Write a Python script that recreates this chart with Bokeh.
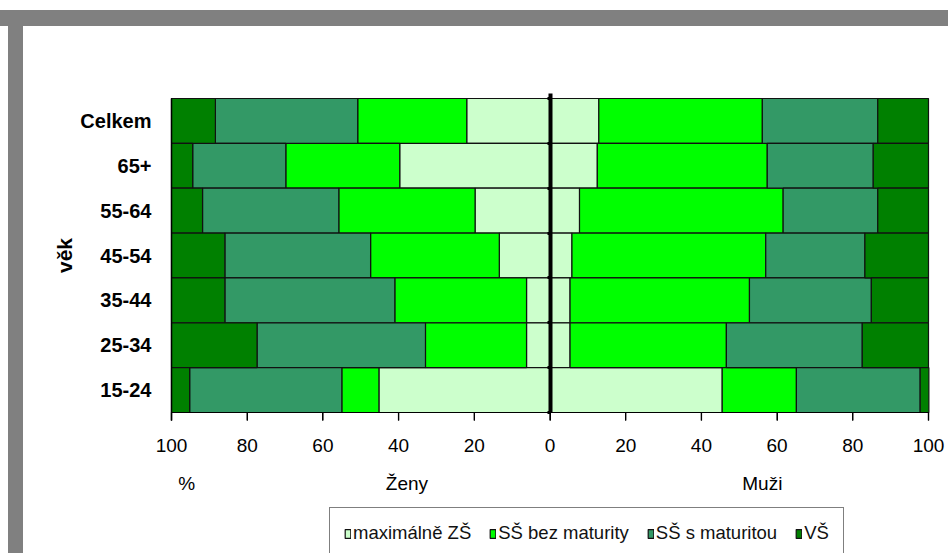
from bokeh.plotting import figure
from bokeh.models import (ColumnDataSource, Range1d, FixedTicker, LinearAxis,
                          Legend, LegendItem)
from bokeh.embed import file_html
from bokeh.resources import INLINE

# ---- data ----
groups = ["Celkem", "65+", "55-64", "45-54", "35-44", "25-34", "15-24"]
series_names = ["maximálně ZŠ", "SŠ bez maturity", "SŠ s maturitou", "VŠ"]
series_colors = ["#CCFFCC", "#00FF00", "#339966", "#008000"]

zeny_zs = [22.0, 39.7, 19.8, 13.4, 6.2, 6.2, 45.2]
zeny_ss_bez = [28.8, 30.1, 36.0, 34.0, 34.8, 26.7, 9.8]
zeny_ss_mat = [37.6, 24.6, 36.0, 38.5, 44.9, 44.5, 40.2]
zeny_vs = [11.6, 5.6, 8.2, 14.1, 14.1, 22.6, 4.8]

muzi_zs = [12.9, 12.5, 7.8, 5.8, 5.3, 5.3, 45.5]
muzi_ss_bez = [43.2, 44.9, 53.8, 51.2, 47.4, 41.3, 19.6]
muzi_ss_mat = [30.5, 28.0, 25.0, 26.2, 32.2, 35.9, 32.7]
muzi_vs = [13.4, 14.6, 13.4, 16.8, 15.1, 17.5, 2.3]

x_ticks = [-100, -80, -60, -40, -20, 0, 20, 40, 60, 80, 100]
x_tick_labels = ["100", "80", "60", "40", "20", "0", "20", "40", "60", "80", "100"]

side_label_pos = [-96.0, -37.8, 56.1]
side_labels = ["%", "Ženy", "Muži"]
y_title = "věk"

zeny = [zeny_zs, zeny_ss_bez, zeny_ss_mat, zeny_vs]
muzi = [muzi_zs, muzi_ss_bez, muzi_ss_mat, muzi_vs]

FONT = "'Liberation Sans', Arial, sans-serif"

W, H = 948, 553
n = len(groups)
ypos = [n - 1 - i for i in range(n)]          # Celkem on top
bar_bottom = -0.5
bar_top = n - 0.5

# the frame covers the whole canvas; the bar area sits at px 171..928 x 98..412
px_left, px_right, px_top, px_bottom = 171, 928, 98, 412
xs = (px_right - px_left) / 200.0
ysc = (px_bottom - px_top) / float(n)
x_range = Range1d(-100 - px_left / xs, 100 + (W - px_right) / xs)
y_range = Range1d(bar_bottom - (H - px_bottom) / ysc, bar_top + px_top / ysc)

p = figure(width=W, height=H, output_backend="svg", toolbar_location=None,
           x_range=x_range, y_range=y_range, min_border=0)
p.outline_line_color = None
p.xgrid.visible = False
p.ygrid.visible = False
p.background_fill_alpha = 0
p.border_fill_alpha = 0
p.styles = {
    "background": "linear-gradient(#808080,#808080) 0px 10px / 100% 16px no-repeat, "
                  "linear-gradient(#808080,#808080) 8px 10px / 15px 100% no-repeat, white"
}

cum_f = [0.0] * n
cum_m = [0.0] * n
renderers = []
for name, color, f, m in zip(series_names, series_colors, zeny, muzi):
    left = [-(c + v) for c, v in zip(cum_f, f)] + list(cum_m)
    right = [-c for c in cum_f] + [c + v for c, v in zip(cum_m, m)]
    src = ColumnDataSource(dict(y=ypos + ypos, left=left, right=right))
    r = p.hbar(y="y", left="left", right="right", height=1.0, source=src,
               fill_color=color, line_color="#111111", line_width=1.2)
    renderers.append(r)
    cum_f = [c + v for c, v in zip(cum_f, f)]
    cum_m = [c + v for c, v in zip(cum_m, m)]

# outward tick marks of the value axis (8 px below the bars) and the left axis line,
# drawn on the overlay level so nothing paints over them
tick_len = 8 / ysc
p.segment(x0=x_ticks, x1=x_ticks, y0=[bar_bottom] * len(x_ticks),
          y1=[bar_bottom - tick_len] * len(x_ticks), line_color="black",
          line_width=1.4, level="overlay")
p.segment(x0=[-100], x1=[-100], y0=[bar_top], y1=[bar_bottom - tick_len],
          line_color="black", line_width=1.4, level="overlay")

# x axis, pinned at the bottom of the bars
xa = p.xaxis[0]
xa.fixed_location = bar_bottom
xa.bounds = (-100, 100)
xa.ticker = FixedTicker(ticks=x_ticks)
xa.major_label_overrides = {t: l for t, l in zip(x_ticks, x_tick_labels)}
xa.minor_tick_line_color = None
xa.major_tick_out = 8
xa.major_tick_in = 0
xa.major_tick_line_width = 1
xa.major_label_standoff = 18
xa.major_label_text_font = FONT
xa.major_label_text_font_size = "19px"
xa.major_label_text_color = "black"
xa.axis_line_color = "black"
xa.major_tick_line_color = "black"

# second row of labels under the x axis: %, Ženy, Muži
xa2 = LinearAxis(ticker=FixedTicker(ticks=side_label_pos), fixed_location=bar_bottom,
                 major_label_overrides={t: l for t, l in zip(side_label_pos, side_labels)})
xa2.axis_line_color = None
xa2.major_tick_line_color = None
xa2.minor_tick_line_color = None
xa2.major_tick_out = 0
xa2.major_tick_in = 0
xa2.major_label_standoff = 60
xa2.major_label_text_font = FONT
xa2.major_label_text_font_size = "19px"
xa2.major_label_text_color = "black"
p.add_layout(xa2, "below")

# y axis with the age groups, pinned at -100
ya = p.yaxis[0]
ya.fixed_location = -100
ya.ticker = FixedTicker(ticks=ypos)
ya.major_label_overrides = {y: g for y, g in zip(ypos, groups)}
ya.bounds = (bar_bottom - 0.14, bar_top)
ya.major_tick_line_color = None
ya.minor_tick_line_color = None
ya.major_label_standoff = 14
ya.major_label_text_font = FONT
ya.major_label_text_font_style = "bold"
ya.major_label_text_font_size = "20px"
ya.major_label_text_color = "black"
ya.axis_line_color = "black"

# axis title "věk" (rotated), centred on the bars
ta = LinearAxis(fixed_location=-100, ticker=FixedTicker(ticks=[3.0]),
                major_label_overrides={3.0: y_title}, major_label_orientation="vertical")
ta.axis_line_color = None
ta.major_tick_line_color = None
ta.minor_tick_line_color = None
ta.major_tick_out = 0
ta.major_tick_in = 0
ta.major_label_standoff = 96
ta.major_label_text_font = FONT
ta.major_label_text_font_style = "bold"
ta.major_label_text_font_size = "21px"
ta.major_label_text_color = "black"
p.add_layout(ta, "left")

# thick central axis at 0
boundaries = [y - 0.5 for y in range(n + 1)]
ca = LinearAxis(fixed_location=0, ticker=FixedTicker(ticks=boundaries),
                bounds=(bar_bottom, bar_top + 0.12))
ca.axis_line_width = 4
ca.axis_line_color = "black"
ca.major_tick_out = 3
ca.major_tick_in = 0
ca.major_tick_line_width = 3
ca.major_tick_line_color = "black"
ca.minor_tick_line_color = None
ca.major_label_text_font_size = "0px"
ca.major_label_text_alpha = 0
p.add_layout(ca, "left")

# make sure no axis paints a background over the bars' surroundings
for ax in (xa, xa2, ya, ta, ca):
    if "background_fill_color" in ax.properties():
        ax.background_fill_color = None

legend = Legend(items=[LegendItem(label=nm, renderers=[r]) for nm, r in zip(series_names, renderers)],
                orientation="horizontal", location=(329, -6))
legend.border_line_color = "black"
legend.border_line_width = 1
legend.background_fill_color = "white"
legend.background_fill_alpha = 1
legend.label_text_font = FONT
legend.label_text_font_size = "18.5px"
legend.label_text_color = "#111111"
legend.glyph_width = 7
legend.glyph_height = 11
legend.label_standoff = 2
legend.spacing = 18
legend.padding = 14
legend.margin = 0
p.add_layout(legend)

open("out.html", "w").write(file_html(p, INLINE))
